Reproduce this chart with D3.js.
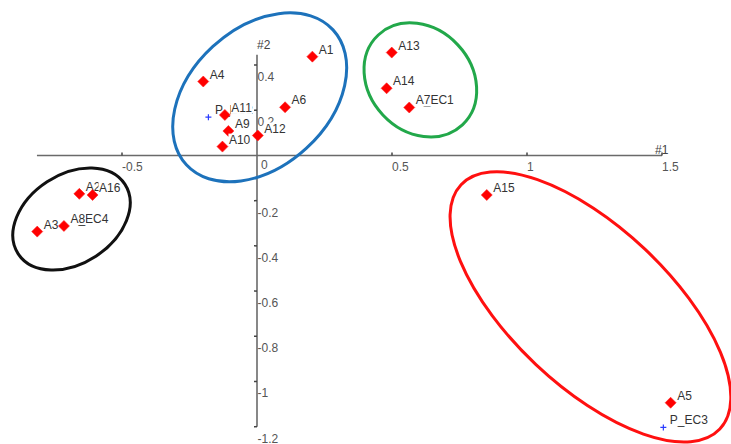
<!DOCTYPE html>
<html><head><meta charset="utf-8">
<script src="https://cdn.jsdelivr.net/npm/d3@7"></script>
<style>body{margin:0;background:#fff}svg{display:block}</style>
</head><body>
<svg id="chart" width="731" height="444"></svg>
<script>
// ---- data ----
const pointNames = ["P_EC2","P_EC1","P_EC4","P_EC3","A1","A2","A3","A4","A5","A6","A7","A8","A9","A10","A11","A12","A13","A14","A15","A16"];
const pointKind  = ["P","P","P","P","A","A","A","A","A","A","A","A","A","A","A","A","A","A","A","A"];
const pointX = [-0.180, 0.564, -0.715, 1.505, 0.205, -0.658, -0.814, -0.199, 1.532, 0.104, 0.564, -0.715, -0.106, -0.128, -0.119, 0.003, 0.499, 0.480, 0.851, -0.609];
const pointY = [0.169, 0.212, -0.312, -1.203, 0.437, -0.170, -0.337, 0.327, -1.094, 0.213, 0.212, -0.312, 0.108, 0.039, 0.179, 0.088, 0.455, 0.297, -0.175, -0.175];

const xTickValues = [-0.5, 0.5, 1, 1.5];
const xTickLabels = ["-0.5", "0.5", "1", "1.5"];
const yTickValues = [0.4, 0.2, -0.2, -0.4, -0.6, -0.8, -1, -1.2];
const yTickLabels = ["0.4", "0.2", "-0.2", "-0.4", "-0.6", "-0.8", "-1", "-1.2"];
const axisNames = ["#1", "#2"];

// cluster ellipses: center in data units, semi-axes in x-data units, rotation in degrees
const clusterNames = ["blue", "green", "black", "red"];
const clusterCX = [0.010, 0.605, -0.687, 1.235];
const clusterCY = [0.257, 0.334, -0.281, -0.670];
const clusterRA = [0.369, 0.228, 0.236, 0.659];
const clusterRB = [0.256, 0.190, 0.165, 0.294];
const clusterAngle = [-42.6, 46.9, -33.2, 43.35];
const clusterColor = ["#1d72bb", "#22a84a", "#111111", "#ff1010"];

// ---- scales ----
const X = d3.scaleLinear().domain([-0.5, 1.5]).range([122, 662]);
const Y = d3.scaleLinear().domain([-1.2, 0.4]).range([426.7, 65]);
const unit = X(1) - X(0);

const svg = d3.select("#chart");
const font = "Liberation Sans, Arial, sans-serif";

// ---- axes ----
const x0 = X(0), y0 = Y(0);
const axisColor = "#6a6a6a";
svg.append("line").attr("x1", X(-0.815)).attr("x2", X(1.5)).attr("y1", y0).attr("y2", y0)
  .attr("stroke", axisColor).attr("stroke-width", 1.6);
svg.append("line").attr("x1", x0).attr("x2", x0).attr("y1", Y(0.445)).attr("y2", Y(-1.2))
  .attr("stroke", axisColor).attr("stroke-width", 1.6);

svg.selectAll(".xt").data(xTickValues).enter().append("line")
  .attr("x1", d => X(d)).attr("x2", d => X(d)).attr("y1", y0 - 3).attr("y2", y0)
  .attr("stroke", "#444").attr("stroke-width", 1.5);
svg.selectAll(".xl").data(xTickValues).enter().append("text")
  .attr("x", d => X(d)).attr("y", y0 + 16)
  .attr("font-family", font).attr("font-size", 12).attr("fill", "#555")
  .text((d, i) => xTickLabels[i]);
svg.append("text").attr("x", x0 + 4).attr("y", y0 + 14)
  .attr("font-family", font).attr("font-size", 12).attr("fill", "#555").text("0");

svg.selectAll(".yt").data(yTickValues).enter().append("line")
  .attr("x1", x0 - 3).attr("x2", x0).attr("y1", d => Y(d)).attr("y2", d => Y(d))
  .attr("stroke", "#444").attr("stroke-width", 1.5);
svg.selectAll(".yl").data(yTickValues).enter().append("text")
  .attr("x", x0 + 0.5).attr("y", d => Y(d) + 16)
  .attr("font-family", font).attr("font-size", 12).attr("fill", "#555")
  .text((d, i) => yTickLabels[i]);

svg.append("text").attr("x", X(1.5) - 7).attr("y", y0 - 1)
  .attr("font-family", font).attr("font-size", 12).attr("fill", "#444").text(axisNames[0]);
svg.append("text").attr("x", x0).attr("y", Y(0.445) - 6)
  .attr("font-family", font).attr("font-size", 12).attr("fill", "#444").text(axisNames[1]);

// ---- cluster ellipses ----
clusterNames.forEach((n, i) => {
  const cx = X(clusterCX[i]), cy = Y(clusterCY[i]);
  svg.append("ellipse")
    .attr("cx", cx).attr("cy", cy)
    .attr("rx", clusterRA[i] * unit).attr("ry", clusterRB[i] * unit)
    .attr("transform", `rotate(${clusterAngle[i]},${cx},${cy})`)
    .attr("fill", "none").attr("stroke", clusterColor[i]).attr("stroke-width", 3);
});

// ---- points and labels (drawn in sequence; later ones cover earlier ones) ----
pointNames.forEach((name, i) => {
  const px = X(pointX[i]), py = Y(pointY[i]);
  const g = svg.append("g");
  if (pointKind[i] === "A") {
    const r = 5.5;
    g.append("path")
      .attr("d", `M${px},${py - r}L${px + r},${py}L${px},${py + r}L${px - r},${py}Z`)
      .attr("fill", "#ff0000").attr("stroke", "#ff2020").attr("stroke-width", 0.6);
  } else {
    g.append("path")
      .attr("d", `M${px - 3},${py}H${px + 3}M${px},${py - 3}V${py + 3}`)
      .attr("stroke", "#2a3cff").attr("stroke-width", 1.2);
  }
  const lx = px + 6.5, ly = py - 3;
  const bg = g.append("rect").attr("fill", "#fff");
  const t = g.append("text").attr("x", lx).attr("y", ly)
    .attr("font-family", font).attr("font-size", 12).attr("fill", "#333").text(name);
  const w = t.node().getComputedTextLength();
  bg.attr("x", lx - 0.5).attr("y", ly - 10).attr("width", w + 1).attr("height", 12);
});
</script>
</body></html>
